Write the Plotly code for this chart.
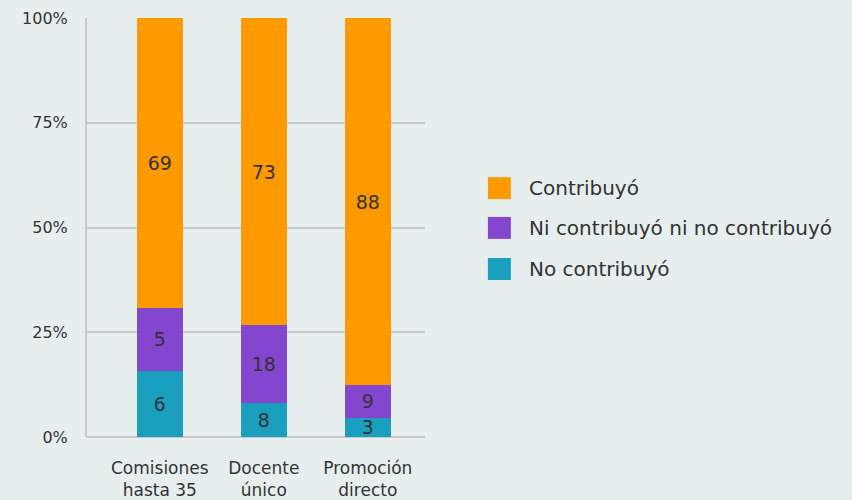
import plotly.graph_objects as go

categories = ["Comisiones<br>hasta 35", "Docente<br>único", "Promoción<br>directo"]

# bar heights (share of each bar, %)
no_contrib = [15.8, 8.1, 4.6]
ni_contrib = [15.0, 18.6, 7.8]
contrib = [69.2, 73.3, 87.6]

# numbers printed on the segments
no_labels = ["6", "8", "3"]
ni_labels = ["5", "18", "9"]
contrib_labels = ["69", "73", "88"]

y_ticks = [0, 25, 50, 75, 100]

series = [
    ("No contribuyó", no_contrib, no_labels, "#1A9FBF"),
    ("Ni contribuyó ni no contribuyó", ni_contrib, ni_labels, "#8445CF"),
    ("Contribuyó", contrib, contrib_labels, "#FF9900"),
]

FONT = "DejaVu Sans"
TXT = "#333333"
GRID = "#C8C8C8"
BG = "#E6EFEE"

fig = go.Figure()
for name, vals, labels, color in series:
    fig.add_trace(go.Bar(
        x=list(range(len(categories))), y=vals, name=name,
        marker=dict(color=color, line=dict(width=0)),
        width=0.44,
        text=labels, textposition="inside", insidetextanchor="middle",
        textangle=0,
        textfont=dict(family=FONT, size=19, color=TXT),
        constraintext="none", showlegend=False,
    ))

fig.update_layout(
    barmode="stack",
    width=852, height=500,
    plot_bgcolor=BG, paper_bgcolor=BG,
    margin=dict(l=87, r=427, t=18, b=63, autoexpand=False),
    font=dict(family=FONT, size=16, color=TXT),
    uniformtext=dict(minsize=19, mode="show"),
)

fig.update_xaxes(
    tickvals=list(range(len(categories))), ticktext=categories,
    range=[-0.70, 2.55], showgrid=False, zeroline=False,
    showline=False, ticks="", ticklabelstandoff=19, automargin=False,
    tickfont=dict(size=17, color=TXT),
)
fig.update_yaxes(
    range=[0, 100], tickvals=y_ticks, ticktext=[f"{v}%" for v in y_ticks],
    showgrid=True, gridcolor=GRID, gridwidth=2,
    zeroline=True, zerolinecolor=GRID, zerolinewidth=2,
    showline=True, linecolor=GRID, linewidth=2,
    ticks="", ticklabelstandoff=14, automargin=False,
    tickfont=dict(size=16, color=TXT),
)

# legend drawn by hand to get the large square swatches
legend_y = [0.594, 0.499, 0.401]
for (name, vals, labels, color), ly in zip(reversed(series), legend_y):
    fig.add_shape(type="rect", xref="paper", yref="paper",
                  x0=1.186, x1=1.186 + 23 / 338, y0=ly - 11 / 419, y1=ly + 11 / 419,
                  fillcolor=color, line=dict(width=0))
    fig.add_annotation(xref="paper", yref="paper", x=1.302, y=ly,
                       text=name, showarrow=False, xanchor="left", yanchor="middle",
                       font=dict(family=FONT, size=20, color=TXT))

# drop the default body margin so the figure fills the window
fig.write_html("out.html",
               config={"displayModeBar": False},
               post_script="document.body.style.margin='0';document.body.style.overflow='hidden';")
